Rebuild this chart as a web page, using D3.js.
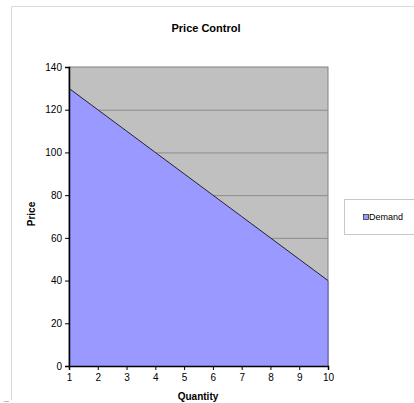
<!DOCTYPE html>
<html lang="en">
<head>
  <meta charset="UTF-8">
  <title>Price Control</title>
  <script src="https://d3js.org/d3.v7.min.js"></script>
  <style>
    body { margin: 0; background: #fff; }
    svg { display: block; font-family: "Liberation Sans", Arial, sans-serif; }
    .tick text { font-size: 10px; fill: #000; }
  </style>
</head>
<body>
  <svg width="414" height="403"></svg>
  <script>
    const quantities = [1, 2, 3, 4, 5, 6, 7, 8, 9, 10];
    const demand = [130, 120, 110, 100, 90, 80, 70, 60, 50, 40];
    const priceTicks = [0, 20, 40, 60, 80, 100, 120, 140];

    const svg = d3.select("svg");
    const plotL = 69, plotR = 328, plotT = 67, plotB = 366;

    // chart area border
    svg.append("path")
      .attr("d", "M11.5,400 V6.5 H414")
      .attr("fill", "none").attr("stroke", "#d9d9d9");
    svg.append("line").attr("x1", 4).attr("x2", 9).attr("y1", 401.5).attr("y2", 401.5)
      .attr("stroke", "#bbb");

    const x = d3.scaleLinear().domain([1, 10]).range([plotL, plotR]);
    const y = d3.scaleLinear().domain([0, 140]).range([plotB, plotT]);

    svg.append("rect")
      .attr("x", plotL).attr("y", plotT)
      .attr("width", plotR - plotL).attr("height", plotB - plotT)
      .attr("fill", "#c0c0c0").attr("stroke", "#808080");

    // gridlines
    svg.selectAll(".grid")
      .data(priceTicks.filter(d => d > 0 && d < 140))
      .enter().append("line")
      .attr("x1", plotL).attr("x2", plotR)
      .attr("y1", d => y(d) + 0.5).attr("y2", d => y(d) + 0.5)
      .attr("stroke", "#8c8c8c");

    const pts = quantities.map((q, i) => [q, demand[i]]);
    svg.append("path")
      .datum(pts)
      .attr("fill", "#9999ff")
      .attr("d", d3.area().x(d => x(d[0])).y0(y(0)).y1(d => y(d[1])));
    svg.append("path")
      .datum(pts)
      .attr("fill", "none").attr("stroke", "#000").attr("stroke-width", 0.8)
      .attr("d", d3.line().x(d => x(d[0])).y(d => y(d[1])));
    svg.append("line")
      .attr("x1", plotR).attr("x2", plotR).attr("y1", y(demand[9])).attr("y2", plotB)
      .attr("stroke", "#5555aa");

    // axes
    const yAxis = svg.append("g").attr("transform", `translate(${plotL},0)`)
      .call(d3.axisLeft(y).tickValues(priceTicks).tickSize(4).tickPadding(3));
    yAxis.select(".domain").attr("stroke-width", 1.5);
    const xAxis = svg.append("g").attr("transform", `translate(0,${plotB})`)
      .call(d3.axisBottom(x).tickValues(quantities).tickFormat(d3.format("d")).tickSize(4).tickPadding(4));
    xAxis.select(".domain").attr("stroke-width", 1.5);
    svg.selectAll(".tick line").attr("stroke", "#000");

    // titles
    svg.append("text").attr("x", 206).attr("y", 32).attr("text-anchor", "middle")
      .attr("font-size", 11).attr("font-weight", "bold").text("Price Control");
    svg.append("text").attr("x", 198).attr("y", 400).attr("text-anchor", "middle")
      .attr("font-size", 10).attr("font-weight", "bold").text("Quantity");
    svg.append("text").attr("transform", "translate(35,214) rotate(-90)")
      .attr("text-anchor", "middle")
      .attr("font-size", 10).attr("font-weight", "bold").text("Price");

    // legend
    const lg = svg.append("g");
    lg.append("rect").attr("x", 344.5).attr("y", 199.5).attr("width", 80).attr("height", 35)
      .attr("fill", "#fff").attr("stroke", "#c8c8c8");
    lg.append("rect").attr("x", 363.5).attr("y", 214.5).attr("width", 5).attr("height", 5)
      .attr("fill", "#9999ff").attr("stroke", "#000").attr("stroke-width", 0.6);
    lg.append("text").attr("x", 369).attr("y", 220).attr("font-size", 9).text("Demand");
  </script>
</body>
</html>
